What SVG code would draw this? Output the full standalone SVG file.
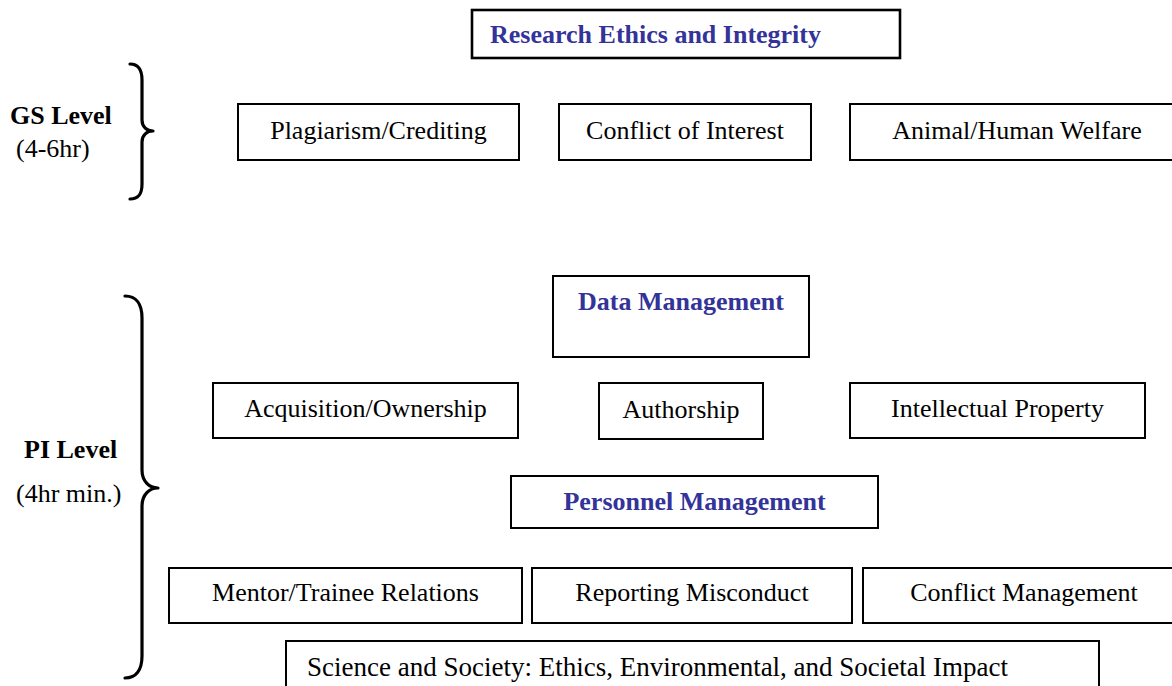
<svg xmlns="http://www.w3.org/2000/svg" width="1172" height="686" viewBox="0 0 1172 686">
  <style>
    .box { fill: #ffffff; stroke: #000000; stroke-width: 2; }
    .lbl { font-family: "Liberation Serif", "Times New Roman", serif; font-size: 26px; fill: #000000; }
    .mid { text-anchor: middle; }
    .head { font-family: "Liberation Serif", "Times New Roman", serif; font-size: 26px; font-weight: bold; fill: #333399; }
    .lvl { font-family: "Liberation Serif", "Times New Roman", serif; font-size: 26px; font-weight: bold; fill: #000000; }
    .brace { fill: none; stroke: #000000; stroke-width: 3.2; stroke-linecap: round; stroke-linejoin: round; }
  </style>
  <rect width="1172" height="686" fill="#ffffff"/>

  <!-- level labels with braces -->
  <g id="gs-level">
    <text class="lvl" x="10" y="124">GS Level</text>
    <text class="lbl" x="16" y="157">(4-6hr)</text>
    <path class="brace" d="M130,64 C139,64 142,70 142,80 L142,120 C142,127 147,131 153,131 C147,131 142,135 142,142 L142,184 C142,194 139,199 130,199"/>
  </g>
  <g id="pi-level">
    <text class="lvl" x="24" y="458">PI Level</text>
    <text class="lbl" x="16" y="502">(4hr min.)</text>
    <path class="brace" d="M125,296 C136,296 142,304 142,318 L142,470 C142,481 149,488 158,488 C149,488 142,495 142,506 L142,656 C142,670 136,678 125,678"/>
  </g>

  <!-- GS level topics -->
  <g id="research-ethics">
    <rect class="box" x="472" y="10" width="428" height="48" style="stroke-width:2.6"/>
    <text class="head" x="490" y="43">Research Ethics and Integrity</text>
  </g>
  <g id="plagiarism">
    <rect class="box" x="238" y="104" width="281" height="56"/>
    <text class="lbl mid" x="378.5" y="139">Plagiarism/Crediting</text>
  </g>
  <g id="conflict-of-interest">
    <rect class="box" x="559" y="104" width="252" height="56"/>
    <text class="lbl mid" x="685" y="139">Conflict of Interest</text>
  </g>
  <g id="animal-human-welfare">
    <rect class="box" x="850" y="104" width="330" height="56"/>
    <text class="lbl mid" x="1017" y="139">Animal/Human Welfare</text>
  </g>

  <!-- PI level: data management -->
  <g id="data-management">
    <rect class="box" x="553" y="276" width="256" height="81"/>
    <text class="head mid" x="681" y="310">Data Management</text>
  </g>
  <g id="acquisition">
    <rect class="box" x="213" y="383" width="305" height="55"/>
    <text class="lbl mid" x="365.5" y="417">Acquisition/Ownership</text>
  </g>
  <g id="authorship">
    <rect class="box" x="599" y="383" width="164" height="56"/>
    <text class="lbl mid" x="681" y="418">Authorship</text>
  </g>
  <g id="intellectual-property">
    <rect class="box" x="850" y="383" width="295" height="55"/>
    <text class="lbl mid" x="997.5" y="417">Intellectual Property</text>
  </g>

  <!-- PI level: personnel management -->
  <g id="personnel-management">
    <rect class="box" x="511" y="476" width="367" height="52"/>
    <text class="head mid" x="694.5" y="510">Personnel Management</text>
  </g>
  <g id="mentor-trainee">
    <rect class="box" x="169" y="568" width="353" height="55"/>
    <text class="lbl mid" x="345.5" y="601">Mentor/Trainee Relations</text>
  </g>
  <g id="reporting-misconduct">
    <rect class="box" x="532" y="568" width="320" height="55"/>
    <text class="lbl mid" x="692" y="601">Reporting Misconduct</text>
  </g>
  <g id="conflict-management">
    <rect class="box" x="863" y="568" width="318" height="55"/>
    <text class="lbl mid" x="1024" y="601">Conflict Management</text>
  </g>

  <!-- science and society, running off the lower edge -->
  <g id="science-society">
    <rect class="box" x="286" y="641" width="813" height="60"/>
    <text class="lbl" x="307" y="676" style="font-size:27px">Science and Society: Ethics, Environmental, and Societal Impact</text>
  </g>
</svg>
